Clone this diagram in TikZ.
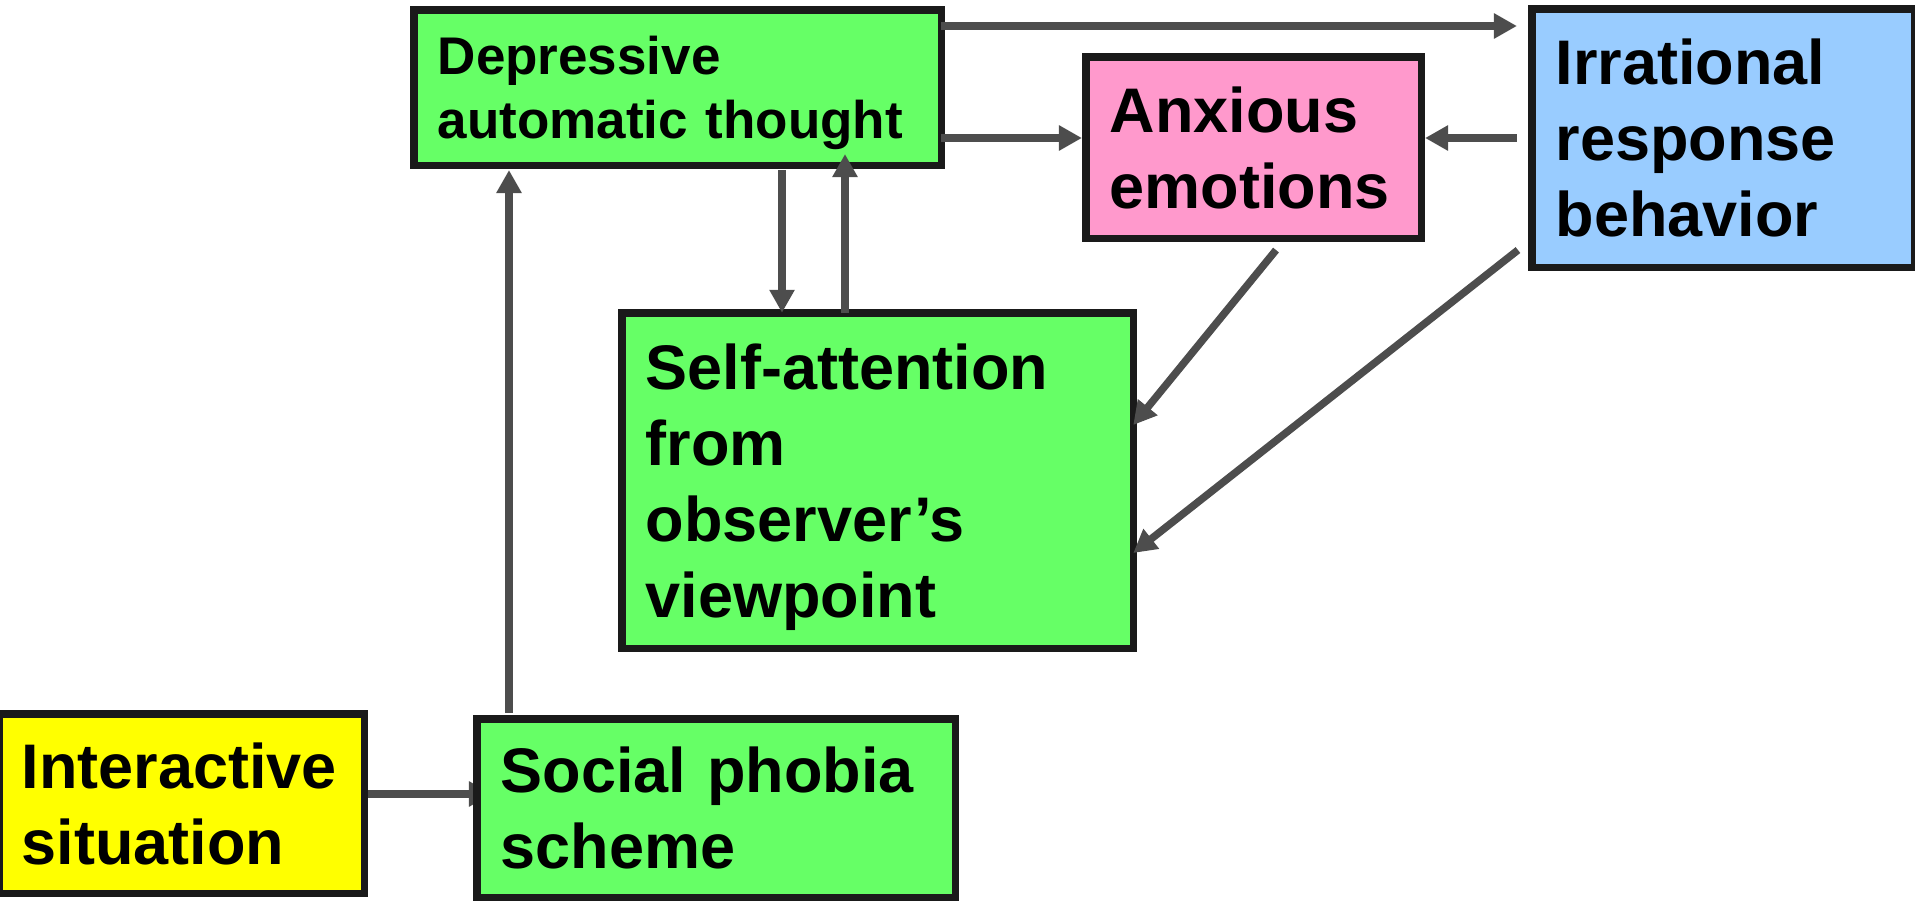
\documentclass[tikz,border=0pt]{standalone}
\usepackage{fontspec}
\setmainfont{Liberation Sans}
\usepackage{xcolor}
\usepackage{tikz}
\usetikzlibrary{arrows.meta, backgrounds}
\definecolor{boxline}{RGB}{26,26,26}
\definecolor{arrowgray}{RGB}{77,77,77}
\definecolor{thoughtgreen}{RGB}{102,255,102}
\definecolor{emotionpink}{RGB}{255,153,204}
\definecolor{behaviorblue}{RGB}{153,204,255}
\definecolor{situationyellow}{RGB}{255,255,0}
\newcommand{\boxfont}{\bfseries\fontsize{31.5pt}{38pt}\selectfont}
\newcommand{\boxfontsmall}{\bfseries\fontsize{26.5pt}{32pt}\selectfont}

\begin{document}
\begin{tikzpicture}[
    x=0.5pt, y=-0.5pt,
    box/.style={rectangle, draw=boxline, line width=3.75pt, anchor=north west, outer sep=0pt,
                align=left, inner xsep=12pt, text depth=38pt, font=\boxfont},
    arrow/.style={-{Triangle[length=11.5pt, width=12pt]}, line width=3.75pt, arrowgray}
]
\useasboundingbox (0,0) rectangle (1915,900);

\node[box, fill=thoughtgreen, minimum width=263.75pt, minimum height=77.75pt, text width=239.75pt,
      text depth=32pt, font=\boxfontsmall] (dep) at (413.75,9.75) {Depressive\\automatic thought};
\node[box, fill=emotionpink, minimum width=167.75pt, minimum height=90.75pt, text width=143.75pt]
      (anx) at (1085.75,56.75) {Anxious\\emotions};
\node[box, fill=behaviorblue, minimum width=191.25pt, minimum height=129.25pt, text width=167.25pt,
      text depth=76pt] (irr) at (1531.75,8.75) {Irrational\\response\\behavior};
\node[box, fill=thoughtgreen, minimum width=255.75pt, minimum height=167.75pt, text width=231.75pt,
      text depth=114pt] (self) at (621.75,312.75) {Self-attention\\from\\observer’s\\viewpoint};
\node[box, fill=situationyellow, minimum width=182.75pt, minimum height=89.75pt, text width=160pt,
      inner xsep=11pt] (inter) at (-1.25,713.75) {Interactive\\situation};
\node[box, fill=thoughtgreen, minimum width=239.25pt, minimum height=89.25pt, text width=215.25pt]
      (social) at (476.75,718.75) {Social phobia\\scheme};

\coordinate (toprow) at ([yshift=-8.125pt]dep.north east);
\coordinate (midrow) at ([yshift=-25.25pt]dep.east);
\coordinate (down) at ([xshift=52.25pt]dep.south);
\coordinate (up) at ([xshift=83.75pt]dep.south);
\coordinate (scheme) at ([xshift=-103.5pt]social.north);
\coordinate (situation) at ([yshift=4.75pt]inter.east);

\draw[arrow, shorten >=7.4pt] (toprow) -- (toprow -| irr.west);
\draw[arrow, shorten >=1.9pt] (midrow) -- (midrow -| anx.west);
\draw[arrow, shorten <=7.4pt, shorten >=1.9pt] (midrow -| irr.west) -- (midrow -| anx.east);
\draw[arrow, shorten <=2.4pt] (down) -- (down |- self.north);
\draw[arrow, shorten >=-5.6pt] (up |- self.north) -- (up);
\draw[arrow, shorten <=3pt, shorten >=2.4pt] (scheme) -- (scheme |- dep.south);
\draw[arrow] ([xshift=11.25pt, yshift=-5.9pt]anx.south) -- ([yshift=27.75pt]self.east);
\draw[arrow] ([xshift=-6.9pt, yshift=8.6pt]irr.south west) -- ([yshift=-36.25pt]self.east);
\begin{scope}[on background layer]
\draw[arrow, shorten >=-7.6pt] (situation) -- (situation -| social.west);
\end{scope}
\end{tikzpicture}
\end{document}
